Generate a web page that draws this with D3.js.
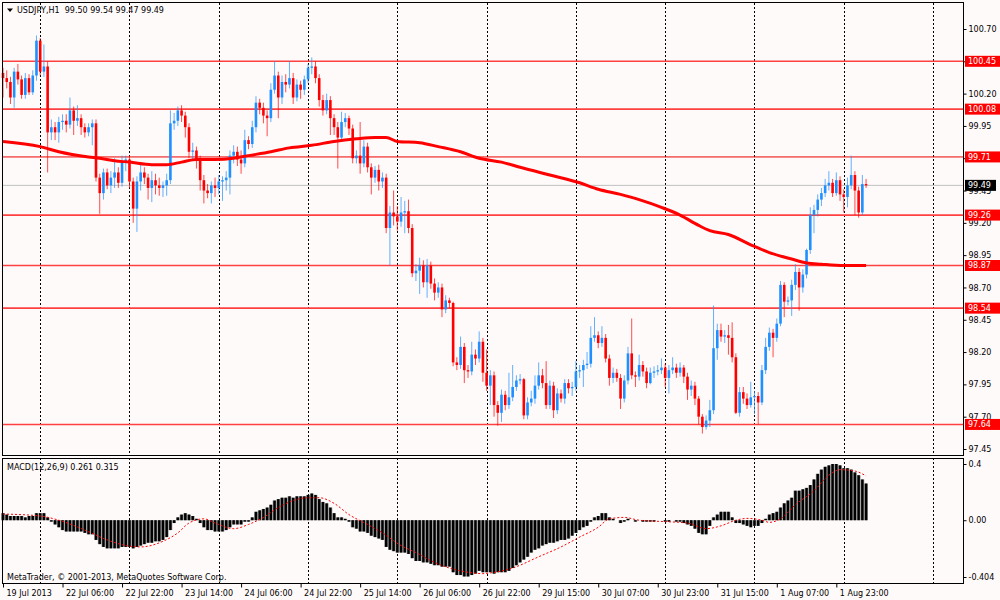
<!DOCTYPE html>
<html>
<head>
<meta charset="utf-8">
<script src="https://cdn.jsdelivr.net/npm/d3@7"></script>
<style>
  body { margin: 0; background: #fff; }
</style>
</head>
<body>
<svg id="chart"></svg>
<script>
// USDJPY H1, 19 Jul 2013 14:00 .. 2 Aug 2013 07:00 (bar index 0..232)
const firstOpen = 100.36;
const closes = [
  100.32,100.29,100.17,100.37,100.31,100.19,100.32,100.21,100.34,100.61,
  100.37,100.41,99.90,99.94,99.90,99.98,99.99,99.96,100.07,99.99,
  100.01,99.94,99.90,99.94,99.97,99.55,99.43,99.59,99.49,99.55,
  99.59,99.51,99.67,99.69,99.52,99.31,99.52,99.59,99.55,99.47,
  99.53,99.49,99.47,99.49,99.53,99.97,99.99,100.07,100.03,99.94,
  99.75,99.76,99.69,99.53,99.45,99.43,99.49,99.47,99.52,99.53,
  99.55,99.72,99.75,99.69,99.66,99.84,99.81,99.94,100.13,100.09,
  100.03,100.01,100.23,100.34,100.17,100.29,100.27,100.32,100.17,100.27,
  100.23,100.31,100.40,100.41,100.32,100.15,100.07,100.15,100.01,99.94,
  99.86,99.98,100.01,99.93,99.70,99.72,99.66,99.79,99.63,99.55,
  99.61,99.52,99.55,99.16,99.28,99.25,99.21,99.28,99.29,99.16,
  98.81,98.83,98.87,98.74,98.87,98.73,98.66,98.70,98.53,98.60,
  98.58,98.12,98.10,98.24,98.06,98.05,98.18,98.15,98.28,98.04,
  97.94,98.02,97.79,97.73,97.87,97.79,97.85,97.93,97.98,97.99,
  97.71,97.81,97.84,97.94,98.02,97.96,97.79,97.94,97.75,97.88,
  97.84,97.96,97.92,97.93,98.05,98.06,98.10,98.11,98.31,98.33,
  98.27,98.31,98.15,98.00,98.04,98.00,97.84,97.98,98.19,98.02,
  98.01,98.10,98.05,97.96,98.04,98.05,98.06,98.08,98.00,98.06,
  98.08,98.04,98.08,98.01,97.91,97.94,97.84,97.70,97.62,97.67,
  97.75,98.23,98.37,98.32,98.33,98.31,98.16,97.73,97.89,97.84,
  97.79,97.85,97.86,97.81,98.06,98.24,98.35,98.31,98.42,98.72,
  98.59,98.60,98.72,98.82,98.70,98.80,98.99,99.26,99.30,99.38,
  99.43,99.49,99.51,99.43,99.53,99.42,99.40,99.49,99.57,99.45,
  99.28,99.50,99.49
];
const highs = [
  100.40,100.38,100.33,100.40,100.43,100.34,100.36,100.35,100.38,100.65,
  100.63,100.58,100.45,100.00,99.98,100.02,100.04,100.04,100.17,100.10,
  100.11,100.04,99.97,99.97,100.00,100.00,99.58,99.62,99.62,99.60,
  99.70,99.63,99.72,99.72,99.72,99.55,99.56,99.66,99.63,99.58,
  99.60,99.58,99.55,99.52,99.58,100.07,100.05,100.10,100.11,100.06,
  99.97,99.82,99.79,99.72,99.57,99.50,99.52,99.55,99.57,99.56,
  99.60,99.76,99.80,99.79,99.76,99.92,99.87,99.99,100.18,100.16,
  100.13,100.07,100.28,100.45,100.37,100.34,100.35,100.45,100.36,100.31,
  100.30,100.34,100.43,100.48,100.45,100.35,100.19,100.20,100.18,100.04,
  99.98,100.06,100.05,100.03,99.96,99.76,99.98,99.84,99.82,99.66,
  99.64,99.65,99.59,99.58,99.33,99.45,99.33,99.40,99.37,99.38,
  99.19,98.88,98.93,98.91,98.92,98.90,98.77,98.74,98.73,98.64,
  98.62,98.59,98.16,98.32,98.27,98.10,98.28,98.22,98.36,98.31,
  98.22,98.06,98.05,97.82,97.91,97.90,98.04,98.10,98.02,98.03,
  98.00,97.85,97.90,98.02,98.12,98.07,98.13,97.98,97.97,97.92,
  97.91,97.99,97.99,97.97,98.13,98.10,98.14,98.20,98.40,98.47,
  98.36,98.40,98.34,98.18,98.08,98.07,98.03,98.02,98.24,98.46,
  98.05,98.18,98.13,98.08,98.08,98.09,98.10,98.15,98.11,98.10,
  98.16,98.11,98.12,98.10,98.04,97.98,97.97,97.86,97.72,97.71,
  97.83,98.56,98.42,98.42,98.37,98.41,98.43,98.19,97.93,97.93,
  97.88,97.97,97.90,97.89,98.10,98.31,98.39,98.38,98.46,98.75,
  98.74,98.63,98.76,98.88,98.85,98.84,99.00,99.32,99.34,99.42,
  99.47,99.54,99.60,99.54,99.59,99.56,99.46,99.55,99.72,99.60,
  99.48,99.57,99.54
];
const lows = [
  100.17,100.24,100.12,100.09,100.27,100.16,100.16,100.19,100.19,100.30,
  100.34,100.33,99.59,99.84,99.84,99.82,99.92,99.90,99.93,99.88,
  99.95,99.88,99.86,99.87,99.80,99.52,99.27,99.38,99.46,99.43,
  99.47,99.47,99.48,99.60,99.47,99.20,99.13,99.45,99.50,99.38,
  99.36,99.42,99.41,99.40,99.41,99.50,99.92,99.95,99.98,99.86,
  99.70,99.69,99.62,99.45,99.35,99.39,99.35,99.40,99.42,99.37,
  99.45,99.42,99.66,99.64,99.58,99.63,99.77,99.78,99.90,100.04,
  99.97,99.87,99.98,100.20,100.01,100.12,100.21,100.24,100.12,100.14,
  100.16,100.19,100.28,100.35,100.28,100.10,100.03,100.04,99.88,99.88,
  99.62,99.83,99.94,99.88,99.66,99.66,99.58,99.63,99.59,99.42,
  99.51,99.45,99.47,99.12,98.87,99.18,99.14,99.17,99.12,99.12,
  98.78,98.75,98.65,98.70,98.62,98.69,98.60,98.62,98.47,98.50,
  98.54,98.09,98.06,98.07,97.96,98.00,98.02,98.10,98.12,97.97,
  97.90,97.79,97.70,97.63,97.66,97.75,97.76,97.82,97.90,97.95,
  97.68,97.68,97.78,97.80,97.91,97.92,97.76,97.76,97.69,97.72,
  97.81,97.80,97.88,97.86,97.90,98.00,97.93,98.07,98.08,98.28,
  98.23,98.24,98.12,97.94,97.96,97.97,97.76,97.81,97.95,97.99,
  97.93,97.98,98.01,97.92,97.95,98.00,98.02,98.03,97.93,97.88,
  98.03,98.00,98.01,97.96,97.83,97.86,97.79,97.64,97.57,97.60,
  97.62,97.72,98.14,98.28,98.27,98.18,98.12,97.72,97.70,97.80,
  97.76,97.77,97.72,97.64,97.79,98.03,98.21,98.16,98.28,98.40,
  98.47,98.56,98.48,98.68,98.52,98.66,98.77,98.96,99.12,99.25,
  99.33,99.40,99.45,99.40,99.41,99.37,99.28,99.32,99.46,99.26,
  99.24,99.26,99.47
];

// moving average (thick red line), read at selected bars
const maBars = [0,10,15,23,26,30,34,40,44,48,52,57,62,66,72,77,83,89,95,100,
  103,106,112,117,123,128,134,139,147,155,160,166,171,177,182,187,190,195,201,206,
  212,216,220,226,232];
const maValues = [99.83,99.79,99.75,99.71,99.70,99.68,99.67,99.65,99.65,99.67,
  99.69,99.69,99.70,99.72,99.75,99.78,99.80,99.83,99.85,99.86,
  99.86,99.83,99.82,99.79,99.75,99.70,99.67,99.63,99.57,99.51,
  99.46,99.42,99.38,99.32,99.26,99.18,99.14,99.11,99.03,98.97,
  98.92,98.89,98.88,98.87,98.87];

// MACD(12,26,9) main values (histogram)
const macdHist = [
  0.05,0.04,0.03,0.03,0.03,0.03,0.02,0.03,0.03,0.05,
  0.05,0.05,0.02,-0.01,-0.03,-0.05,-0.07,-0.08,-0.08,-0.08,
  -0.08,-0.08,-0.09,-0.10,-0.10,-0.14,-0.17,-0.19,-0.20,-0.20,
  -0.20,-0.20,-0.19,-0.19,-0.19,-0.20,-0.19,-0.18,-0.17,-0.16,
  -0.16,-0.15,-0.15,-0.14,-0.12,-0.07,-0.02,0.02,0.04,0.05,
  0.04,0.03,0.01,-0.02,-0.05,-0.07,-0.07,-0.08,-0.08,-0.08,
  -0.07,-0.05,-0.03,-0.03,-0.03,-0.01,-0.01,0.02,0.06,0.07,
  0.08,0.09,0.11,0.14,0.15,0.16,0.16,0.17,0.16,0.17,
  0.17,0.17,0.18,0.19,0.18,0.15,0.13,0.12,0.09,0.05,
  0.02,0.02,0.01,-0.01,-0.05,-0.06,-0.08,-0.08,-0.09,-0.11,
  -0.12,-0.13,-0.14,-0.19,-0.21,-0.22,-0.23,-0.23,-0.23,-0.24,
  -0.27,-0.29,-0.29,-0.30,-0.30,-0.31,-0.32,-0.32,-0.33,-0.33,
  -0.33,-0.37,-0.39,-0.39,-0.40,-0.40,-0.39,-0.38,-0.36,-0.37,
  -0.37,-0.37,-0.38,-0.37,-0.37,-0.37,-0.36,-0.34,-0.32,-0.30,
  -0.28,-0.26,-0.23,-0.21,-0.20,-0.18,-0.17,-0.16,-0.16,-0.15,
  -0.14,-0.14,-0.13,-0.11,-0.09,-0.07,-0.05,-0.04,-0.01,0.02,
  0.03,0.05,0.05,0.02,0.01,0.00,-0.02,-0.01,0.01,0.00,
  -0.01,0.00,-0.01,-0.01,-0.01,-0.01,0.00,0.00,-0.01,-0.01,
  0.00,-0.01,-0.01,-0.02,-0.03,-0.04,-0.06,-0.09,-0.10,-0.10,
  -0.04,0.02,0.04,0.06,0.06,0.06,0.02,-0.02,-0.02,-0.03,
  -0.04,-0.05,-0.04,-0.04,-0.02,0.01,0.04,0.05,0.06,0.09,
  0.12,0.14,0.16,0.21,0.21,0.22,0.23,0.25,0.29,0.33,
  0.36,0.38,0.39,0.40,0.40,0.39,0.37,0.37,0.36,0.34,
  0.32,0.29,0.261
];
// signal line (red dotted), read at selected bars
const signalBars = [0,10,15,22,28,33,37,43,47,50,54,57,62,66,70,74,78,82,85,89,
  93,98,102,107,111,116,120,125,129,131,137,144,150,155,160,163,167,171,178,184,
  189,193,197,200,204,206,209,213,218,222,225,229,232];
const signalValues = [0.044,0.03,0.00,-0.07,-0.14,-0.18,-0.19,-0.15,-0.09,-0.02,
  0.01,-0.02,-0.06,-0.03,0.02,0.09,0.14,0.16,0.16,0.12,
  0.04,-0.03,-0.09,-0.18,-0.23,-0.30,-0.34,-0.37,-0.38,-0.375,
  -0.34,-0.26,-0.19,-0.12,-0.05,0.01,0.02,0.00,-0.01,-0.02,
  -0.06,-0.04,0.00,0.013,0.00,-0.015,0.01,0.11,0.21,0.32,
  0.36,0.35,0.315];

const levels = [100.45, 100.08, 99.71, 99.26, 98.87, 98.54, 97.64];
const bidPrice = 99.49;
const priceTicks = [100.70,100.45,100.20,99.95,99.70,99.45,99.20,98.95,98.70,98.45,98.20,97.95,97.70,97.45];
const macdTicks = [0.4, 0, -0.404];
const macdTickLabels = ['0.4', '0.00', '-0.404'];
const timeBars = [0,16,32,48,64,80,96,112,128,144,160,176,192,208,224];
const timeLabels = ['19 Jul 2013','22 Jul 06:00','22 Jul 22:00','23 Jul 14:00','24 Jul 06:00',
  '24 Jul 22:00','25 Jul 14:00','26 Jul 06:00','26 Jul 22:00','29 Jul 15:00',
  '30 Jul 07:00','30 Jul 23:00','31 Jul 15:00','1 Aug 07:00','1 Aug 23:00'];
const gridBars = [10,34,58,82,106,130,154,178,202,226,250];

// layout
const W = 1000, H = 600;
const left = 2, right = 963;
const mainTop = 3, mainBottom = 456, macdTop = 458, macdBottom = 583;

const svg = d3.select('#chart')
  .attr('width', W)
  .attr('height', H)
  .style('font-family', '"DejaVu Sans", sans-serif');

svg.append('rect').attr('width', W).attr('height', H).attr('fill', '#FFFAFA');

// scales
const x = d3.scaleLinear().domain([0, 258]).range([3, 962.8]);
const y = d3.scaleLinear().domain([97.45, 100.70]).range([449, 29]);
const ym = d3.scaleLinear().domain([-0.404, 0.4]).range([577, 464]);

const bars = closes.map((c, i) => ({
  i, o: i === 0 ? firstOpen : closes[i - 1], h: highs[i], l: lows[i], c
}));

// vertical dashed grid, both panels
[[mainTop, mainBottom], [macdTop, macdBottom]].forEach(([t, b]) => {
  svg.append('g').selectAll('line').data(gridBars).enter().append('line')
    .attr('x1', d => Math.round(x(d)) + 0.5).attr('x2', d => Math.round(x(d)) + 0.5)
    .attr('y1', t).attr('y2', b)
    .attr('stroke', '#000').attr('stroke-width', 1)
    .attr('stroke-dasharray', '2,2');
});

// horizontal levels and bid line
svg.append('line')
  .attr('x1', left).attr('x2', right)
  .attr('y1', y(bidPrice)).attr('y2', y(bidPrice))
  .attr('stroke', '#C0C0C0').attr('stroke-width', 1);
svg.append('g').selectAll('line').data(levels).enter().append('line')
  .attr('x1', left).attr('x2', right)
  .attr('y1', d => y(d)).attr('y2', d => y(d))
  .attr('stroke', d => d === 99.71 ? '#EE0000' : '#FF4040')
  .attr('stroke-width', d => d === 99.71 ? 1 : 1.6);

// candles
const bull = '#1E90FF', bear = '#FF0000';
const candles = svg.append('g').selectAll('g').data(bars).enter().append('g');
candles.append('line')
  .attr('x1', d => x(d.i)).attr('x2', d => x(d.i))
  .attr('y1', d => y(d.h)).attr('y2', d => y(d.l))
  .attr('stroke', d => d.c >= d.o ? bull : bear)
  .attr('stroke-opacity', 0.7)
  .attr('stroke-width', 1);
candles.append('rect')
  .attr('x', d => x(d.i) - 1.3)
  .attr('width', 2.6)
  .attr('y', d => y(Math.max(d.o, d.c)))
  .attr('height', d => Math.max(1, Math.abs(y(d.o) - y(d.c))))
  .attr('fill', d => d.c >= d.o ? bull : bear);

// moving average
svg.append('path')
  .datum(maBars.map((b, k) => [b, maValues[k]]))
  .attr('fill', 'none')
  .attr('stroke', '#FF0000')
  .attr('stroke-width', 3)
  .attr('d', d3.line().x(d => x(d[0])).y(d => y(d[1])).curve(d3.curveMonotoneX));

// MACD histogram
const hist = svg.append('g').selectAll('g').data(macdHist).enter().append('g');
hist.append('rect')
  .attr('x', (d, i) => x(i) - 1.86)
  .attr('width', 3.72)
  .attr('y', d => Math.min(ym(0), ym(d)))
  .attr('height', d => Math.abs(ym(d) - ym(0)))
  .attr('fill', '#8c8c8c');
hist.append('rect')
  .attr('x', (d, i) => x(i) - 1.2)
  .attr('width', 2.4)
  .attr('y', d => Math.min(ym(0), ym(d)))
  .attr('height', d => Math.abs(ym(d) - ym(0)))
  .attr('fill', '#000');

// signal line
svg.append('path')
  .datum(signalBars.map((b, k) => [b, signalValues[k]]))
  .attr('fill', 'none')
  .attr('stroke', '#FF0000')
  .attr('stroke-width', 1)
  .attr('stroke-dasharray', '2,2')
  .attr('d', d3.line().x(d => x(d[0])).y(d => ym(d[1])).curve(d3.curveMonotoneX));

// panel frames
svg.append('rect')
  .attr('x', left + 0.5).attr('y', mainTop - 0.5)
  .attr('width', right - left).attr('height', mainBottom - mainTop)
  .attr('fill', 'none').attr('stroke', '#000');
svg.append('rect')
  .attr('x', left + 0.5).attr('y', macdTop + 0.5)
  .attr('width', right - left).attr('height', macdBottom - macdTop)
  .attr('fill', 'none').attr('stroke', '#000');

// price axis
const priceAxis = svg.append('g')
  .attr('transform', `translate(${right + 0.5},0)`)
  .call(d3.axisRight(y).tickValues(priceTicks).tickSize(3).tickPadding(2).tickFormat(d3.format('.2f')));
priceAxis.select('.domain').remove();
priceAxis.selectAll('text').attr('font-size', 8).attr('font-family', '"DejaVu Sans", sans-serif').attr('fill', '#000');

// macd axis
const macdAxis = svg.append('g')
  .attr('transform', `translate(${right + 0.5},0)`)
  .call(d3.axisRight(ym).tickValues(macdTicks).tickSize(3).tickPadding(2).tickFormat((d, i) => macdTickLabels[i]));
macdAxis.select('.domain').remove();
macdAxis.selectAll('text').attr('font-size', 8).attr('font-family', '"DejaVu Sans", sans-serif').attr('fill', '#000');

// time axis
const timeAxis = svg.append('g')
  .attr('transform', `translate(0,${macdBottom + 0.5})`)
  .call(d3.axisBottom(x).tickValues(timeBars).tickSize(4).tickFormat((d, i) => timeLabels[i]));
timeAxis.select('.domain').remove();
timeAxis.selectAll('text')
  .attr('text-anchor', 'start')
  .attr('x', 3)
  .attr('font-size', 8)
  .attr('font-family', '"DejaVu Sans", sans-serif')
  .attr('fill', '#000');

// level price boxes
const boxes = svg.append('g').selectAll('g').data(levels).enter().append('g');
boxes.append('rect')
  .attr('x', right + 2).attr('width', 35)
  .attr('y', d => y(d) - 5.5).attr('height', 11)
  .attr('fill', '#FF0000');
boxes.append('text')
  .attr('x', right + 5).attr('y', d => y(d) + 3)
  .attr('font-size', 8).attr('fill', '#fff')
  .text(d => d3.format('.2f')(d));

svg.append('rect')
  .attr('x', right + 2).attr('width', 31)
  .attr('y', y(bidPrice) - 5.5).attr('height', 11)
  .attr('fill', '#000');
svg.append('text')
  .attr('x', right + 5).attr('y', y(bidPrice) + 3)
  .attr('font-size', 8).attr('fill', '#fff')
  .text(d3.format('.2f')(bidPrice));

// captions
const last = bars[bars.length - 1];
svg.append('path').attr('d', 'M7,8.5 L13,8.5 L10,12 Z').attr('fill', '#000');
svg.append('text')
  .attr('x', 17).attr('y', 13)
  .attr('font-size', 8).attr('fill', '#000')
  .attr('xml:space', 'preserve')
  .text(`USDJPY,H1  ${[last.o, last.h, last.l, last.c].map(d3.format('.2f')).join(' ')}`);
svg.append('text')
  .attr('x', 7).attr('y', 470)
  .attr('font-size', 8).attr('fill', '#000')
  .text(`MACD(12,26,9) ${macdHist[macdHist.length - 1]} ${signalValues[signalValues.length - 1]}`);
svg.append('text')
  .attr('x', 7).attr('y', 580)
  .attr('font-size', 8).attr('fill', '#000')
  .text('MetaTrader, © 2001-2013, MetaQuotes Software Corp.');
</script>
</body>
</html>
